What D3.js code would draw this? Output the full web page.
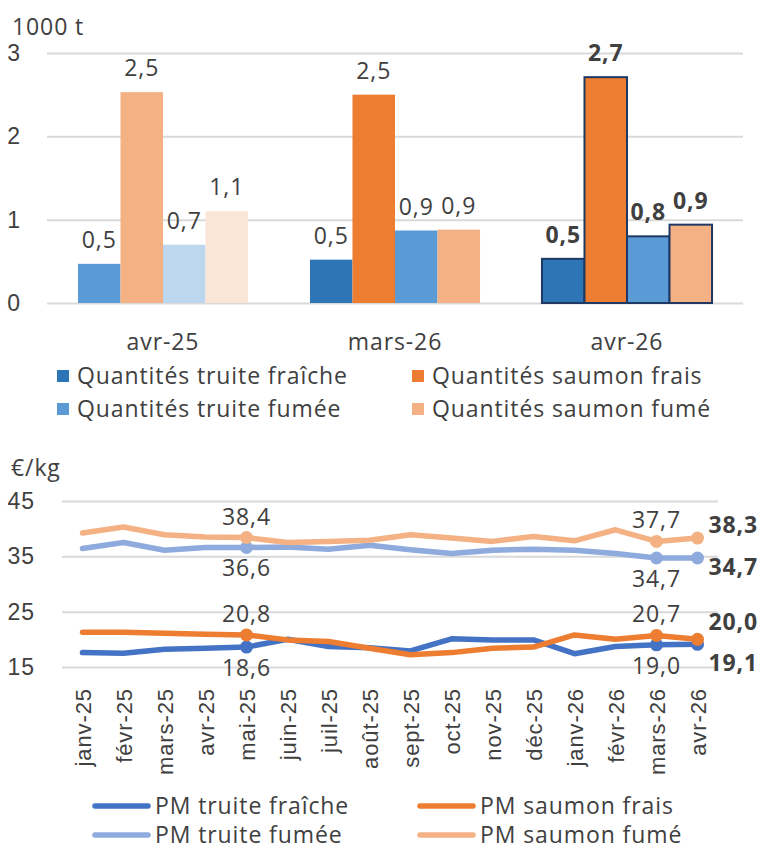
<!DOCTYPE html>
<html>
<head>
<meta charset="utf-8">
<script src="https://cdn.jsdelivr.net/npm/d3@7"></script>
<style>
  body { margin: 0; background: #fff; }
  svg { display: block; font-family: "Open Sans", sans-serif; }
  text { fill: #404040; letter-spacing: 0.9px; }
</style>
</head>
<body>
<svg id="chart" width="760" height="850"></svg>
<script>
// ---- data : quantités (1000 t)
var barGroups = ['avr-25', 'mars-26', 'avr-26']
var barSeries = ['Quantités truite fraîche', 'Quantités saumon frais', 'Quantités truite fumée', 'Quantités saumon fumé']
var qTruiteFraiche = [0.47, 0.52, 0.53]
var qSaumonFrais = [2.53, 2.50, 2.71]
var qTruiteFumee = [0.70, 0.87, 0.80]
var qSaumonFume = [1.10, 0.88, 0.94]
var barTicks = [0, 1, 2, 3]

// ---- data : prix moyens (€/kg)
var months = ['janv-25', 'févr-25', 'mars-25', 'avr-25', 'mai-25', 'juin-25', 'juil-25', 'août-25',
  'sept-25', 'oct-25', 'nov-25', 'déc-25', 'janv-26', 'févr-26', 'mars-26', 'avr-26']
var lineSeries = ['PM truite fraîche', 'PM saumon frais', 'PM truite fumée', 'PM saumon fumé']
var pmTruiteFraiche = [17.6, 17.5, 18.2, 18.4, 18.6, 20.0, 18.7, 18.5, 17.9, 20.1, 19.9, 19.9, 17.4, 18.7, 19.0, 19.1]
var pmSaumonFrais = [21.3, 21.3, 21.1, 20.9, 20.8, 19.9, 19.6, 18.4, 17.2, 17.6, 18.4, 18.6, 20.8, 20.0, 20.7, 20.0]
var pmTruiteFumee = [36.4, 37.5, 36.1, 36.6, 36.6, 36.7, 36.3, 37.0, 36.2, 35.5, 36.1, 36.3, 36.1, 35.5, 34.7, 34.7]
var pmSaumonFume = [39.2, 40.3, 38.9, 38.5, 38.4, 37.5, 37.7, 37.9, 38.9, 38.3, 37.7, 38.6, 37.8, 39.8, 37.7, 38.3]
var lineTicks = [15, 25, 35, 45]
var labelledMonths = ['mai-25', 'mars-26']

// ---- styles
var barColors = ['#2e75b6', '#ed7d31', '#5b9bd5', '#f4b183']
var paleColors = ['#5b9bd5', '#f4b183', '#bdd7ee', '#fbe5d6'] // year-ago group
var lineColors = ['#4472c4', '#ed7d31', '#8faadc', '#f4b183']
var labelSide = ['below', 'above', 'below', 'above']
var lastLabelDy = [19, -17, 9, -13]
var grid = '#d9d9d9'
var fmt = function (v) { return d3.format('.1f')(v).replace('.', ',') }

var svg = d3.select('#chart')

// =============== bar chart ===============
var barValues = [qTruiteFraiche, qSaumonFrais, qTruiteFumee, qSaumonFume]

var x0 = d3.scaleBand().domain(barGroups).range([47, 743]).paddingInner(0.267).paddingOuter(0.1335)
var x1 = d3.scaleBand().domain(d3.range(barSeries.length)).range([0, x0.bandwidth()])
var yB = d3.scaleLinear().domain([0, 3]).range([303, 53])

var gB = svg.append('g')

gB.append('g')
  .attr('transform', 'translate(47,0)')
  .call(d3.axisLeft(yB).tickValues(barTicks).tickSize(-696).tickPadding(26).tickFormat(d3.format('d')))
  .call(function (g) {
    g.select('.domain').remove()
    g.selectAll('.tick line').attr('stroke', grid).attr('stroke-width', 2)
    g.selectAll('.tick text').attr('font-size', 23).attr('fill', '#404040')
  })

gB.append('text').attr('x', 12).attr('y', 35).attr('font-size', 23).text('1000 t')

barGroups.forEach(function (grp, gi) {
  var last = gi === barGroups.length - 1
  var cells = barSeries.map(function (s, si) { return { si: si, v: barValues[si][gi] } })
  var gg = gB.append('g').attr('transform', 'translate(' + x0(grp) + ',0)')

  gg.selectAll('rect')
    .data(cells)
    .enter()
    .append('rect')
    .attr('x', function (d) { return x1(d.si) })
    .attr('y', function (d) { return yB(d.v) })
    .attr('width', x1.bandwidth())
    .attr('height', function (d) { return yB(0) - yB(d.v) })
    .attr('fill', function (d) { return gi === 0 ? paleColors[d.si] : barColors[d.si] })
    .attr('stroke', last ? '#1f3864' : 'none')
    .attr('stroke-width', last ? 2 : 0)

  gg.selectAll('.barLabel')
    .data(cells)
    .enter()
    .append('text')
    .attr('class', 'barLabel')
    .attr('x', function (d) { return x1(d.si) + x1.bandwidth() / 2 })
    .attr('y', function (d) { return yB(d.v) - 16 })
    .attr('text-anchor', 'middle')
    .attr('font-size', 23)
    .attr('font-weight', last ? 700 : 400)
    .text(function (d) { return fmt(d.v) })

  gB.append('text')
    .attr('x', x0(grp) + x0.bandwidth() / 2)
    .attr('y', 350)
    .attr('text-anchor', 'middle')
    .attr('font-size', 23)
    .text(grp)
})

// bar legend
var legB = gB.selectAll('.legB')
  .data(barSeries)
  .enter()
  .append('g')
  .attr('transform', function (d, i) {
    return 'translate(' + (i % 2 ? 412 : 57) + ',' + (i < 2 ? 376 : 409) + ')'
  })
legB.append('rect').attr('x', 0).attr('y', -6).attr('width', 12).attr('height', 12)
  .attr('fill', function (d, i) { return barColors[i] })
legB.append('text').attr('x', 20).attr('y', 8).attr('font-size', 23).text(function (d) { return d })

// =============== line chart ===============
var lineValues = [pmTruiteFraiche, pmSaumonFrais, pmTruiteFumee, pmSaumonFume]

var xL = d3.scalePoint().domain(months).range([62, 718]).padding(0.5)
var yL = d3.scaleLinear().domain([15, 45]).range([667, 501])

var gL = svg.append('g')

gL.append('g')
  .attr('transform', 'translate(62,0)')
  .call(d3.axisLeft(yL).tickValues(lineTicks).tickSize(-656).tickPadding(27).tickFormat(d3.format('d')))
  .call(function (g) {
    g.select('.domain').remove()
    g.selectAll('.tick line').attr('stroke', grid).attr('stroke-width', 2)
    g.selectAll('.tick text').attr('font-size', 23).attr('fill', '#404040')
  })

gL.append('text').attr('x', 11).attr('y', 476).attr('font-size', 23).text('€/kg')

gL.append('g')
  .attr('transform', 'translate(0,688)')
  .call(d3.axisBottom(xL).tickSize(0).tickPadding(0))
  .call(function (g) {
    g.select('.domain').remove()
    g.selectAll('.tick text')
      .attr('font-size', 22)
      .attr('fill', '#404040')
      .attr('transform', 'rotate(-90)')
      .attr('text-anchor', 'end')
      .attr('x', 0)
      .attr('y', 0)
      .attr('dy', '0.35em')
  })

var line = d3.line()
  .x(function (d, i) { return xL(months[i]) })
  .y(function (d) { return yL(d) })

var drawOrder = [2, 3, 0, 1]
drawOrder.forEach(function (si) {
  var vals = lineValues[si]
  gL.append('path')
    .datum(vals)
    .attr('d', line)
    .attr('fill', 'none')
    .attr('stroke', lineColors[si])
    .attr('stroke-width', 5.5)
    .attr('stroke-linejoin', 'round')
    .attr('stroke-linecap', 'round')

  var marked = labelledMonths.concat([months[months.length - 1]])
  gL.selectAll('.dot' + si)
    .data(marked)
    .enter()
    .append('circle')
    .attr('cx', function (m) { return xL(m) })
    .attr('cy', function (m) { return yL(vals[months.indexOf(m)]) })
    .attr('r', 6.5)
    .attr('fill', lineColors[si])
})

lineValues.forEach(function (vals, si) {
  labelledMonths.forEach(function (m) {
    var v = vals[months.indexOf(m)]
    gL.append('text')
      .attr('x', xL(m))
      .attr('y', yL(v) + (labelSide[si] === 'above' ? -13 : 29))
      .attr('text-anchor', 'middle')
      .attr('font-size', 23)
      .text(fmt(v))
  })
  var lastM = months[months.length - 1]
  var lv = vals[vals.length - 1]
  gL.append('text')
    .attr('x', xL(lastM) + 11)
    .attr('y', yL(lv) + lastLabelDy[si] + 8)
    .attr('font-size', 23)
    .attr('font-weight', 700)
    .text(fmt(lv))
})

// line legend
var legL = gL.selectAll('.legL')
  .data(lineSeries)
  .enter()
  .append('g')
  .attr('transform', function (d, i) {
    return 'translate(' + (i % 2 ? 420 : 95) + ',' + (i < 2 ? 806 : 835) + ')'
  })
legL.append('line').attr('x1', 0).attr('x2', 53).attr('y1', 0).attr('y2', 0)
  .attr('stroke', function (d, i) { return lineColors[i] })
  .attr('stroke-width', 5.5)
  .attr('stroke-linecap', 'round')
legL.append('text').attr('x', 60).attr('y', 8).attr('font-size', 23).text(function (d) { return d })
</script>
</body>
</html>
